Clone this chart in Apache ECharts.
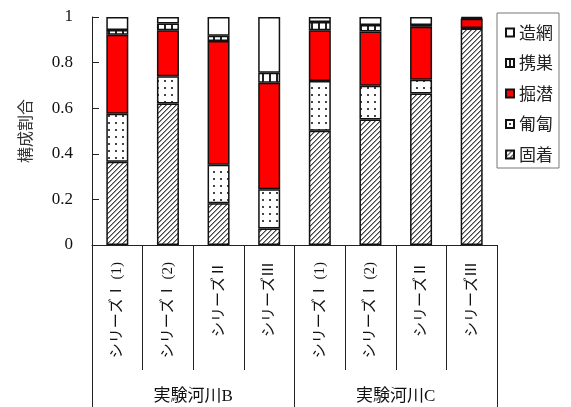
<!DOCTYPE html>
<html>
<head>
<meta charset="utf-8">
<script src="https://cdn.jsdelivr.net/npm/echarts@6/dist/echarts.min.js"></script>
<style>
html,body{margin:0;padding:0;background:#fff;}
#chart{width:571px;height:407px;}
</style>
</head>
<body>
<div id="chart"></div>
<script>
// ---- data ----
const categories = ['シリーズⅠ (1)', 'シリーズⅠ (2)', 'シリーズⅡ', 'シリーズⅢ', 'シリーズⅠ (1)', 'シリーズⅠ (2)', 'シリーズⅡ', 'シリーズⅢ'];
const groups = ['実験河川B', '実験河川C'];
const koChaku = [0.365, 0.621, 0.183, 0.072, 0.501, 0.550, 0.664, 0.950]; // 固着
const hofuku  = [0.211, 0.119, 0.169, 0.172, 0.218, 0.149, 0.061, 0.002]; // 匍匐
const kussen  = [0.346, 0.202, 0.543, 0.468, 0.223, 0.237, 0.232, 0.040]; // 掘潜
const keisou  = [0.021, 0.030, 0.023, 0.044, 0.036, 0.029, 0.008, 0.003]; // 携巣
const zoumou  = [0.057, 0.028, 0.082, 0.244, 0.022, 0.035, 0.035, 0.005]; // 造網
const legendOrder = ['造網', '携巣', '掘潜', '匍匐', '固着'];

// ---- patterns ----
function hatch() {
  const n = 5, c = document.createElement('canvas');
  c.width = n; c.height = n;
  const g = c.getContext('2d');
  g.fillStyle = '#fff'; g.fillRect(0, 0, n, n);
  for (let x = 0; x < n; x++) for (let y = 0; y < n; y++) {
    const m = (x + y) % n;
    if (m === 0) { g.fillStyle = '#444'; g.fillRect(x, y, 1, 1); }
    else if (m === 1) { g.fillStyle = '#9a9a9a'; g.fillRect(x, y, 1, 1); }
  }
  return c;
}
function dots() {
  const n = 7, c = document.createElement('canvas');
  c.width = n; c.height = n;
  const g = c.getContext('2d');
  g.fillStyle = '#fff'; g.fillRect(0, 0, n, n);
  g.fillStyle = '#444'; g.fillRect(3, 3, 2, 2);
  return c;
}
function vlines() {
  const n = 7, c = document.createElement('canvas');
  c.width = n; c.height = n;
  const g = c.getContext('2d');
  g.fillStyle = '#fff'; g.fillRect(0, 0, n, n);
  g.fillStyle = '#222'; g.fillRect(3, 0, 2, n);
  return c;
}
const pat = (cv) => ({ image: cv, repeat: 'repeat' });

const border = { borderColor: '#111', borderWidth: 1.5 };
function mk(name, data, color) {
  return {
    name, type: 'bar', stack: 'all', data, barWidth: 22,
    xAxisIndex: 0,
    itemStyle: Object.assign({ color }, border),
    emphasis: { disabled: true }
  };
}

const chart = echarts.init(document.getElementById('chart'), null, { renderer: 'canvas' });
const serif = '"Liberation Serif", "Noto Sans CJK JP", serif';
chart.setOption({
  animation: false,
  backgroundColor: '#fff',
  grid: { left: 92, right: 74, top: 17, bottom: 162, containLabel: false },
  legend: {
    orient: 'vertical', left: 497, top: 13,
    data: legendOrder,
    itemWidth: 8, itemHeight: 8, itemGap: 13.5,
    padding: [11, 6, 5, 8],
    borderColor: '#777', borderWidth: 1,
    icon: 'rect',
    textStyle: { fontSize: 17, color: '#222', fontFamily: '"Noto Sans CJK JP", sans-serif', lineHeight: 17 }
  },
  xAxis: [
    {
      type: 'category', data: categories, position: 'bottom',
      axisLine: { show: true, lineStyle: { color: '#222', width: 1 } },
      axisTick: { show: true, length: 125, interval: 0, lineStyle: { color: '#222', width: 1 } },
      axisLabel: { interval: 0, rotate: 90, margin: 17, fontSize: 15, color: '#111', fontFamily: serif }
    },
    {
      type: 'category', data: groups, position: 'bottom',
      axisLine: { show: false },
      axisTick: { show: true, length: 162, interval: 0, lineStyle: { color: '#222', width: 1 } },
      axisLabel: { interval: 0, margin: 143, fontSize: 17, color: '#111', fontFamily: serif }
    }
  ],
  yAxis: {
    type: 'value', min: 0, max: 1, interval: 0.2,
    name: '構成割合', nameLocation: 'middle', nameGap: 59, nameRotate: 90,
    nameTextStyle: { fontSize: 16, color: '#333', fontFamily: '"Noto Sans CJK JP", sans-serif' },
    axisLine: { show: true, lineStyle: { color: '#222', width: 1 } },
    axisTick: { show: true, inside: true, length: 7, lineStyle: { color: '#222' } },
    axisLabel: { margin: 19, fontSize: 17, color: '#111', fontFamily: serif },
    splitLine: { show: false }
  },
  series: [
    mk('固着', koChaku, pat(hatch())),
    mk('匍匐', hofuku, pat(dots())),
    mk('掘潜', kussen, '#ff0000'),
    mk('携巣', keisou, pat(vlines())),
    mk('造網', zoumou, '#ffffff')
  ]
});
</script>
</body>
</html>
